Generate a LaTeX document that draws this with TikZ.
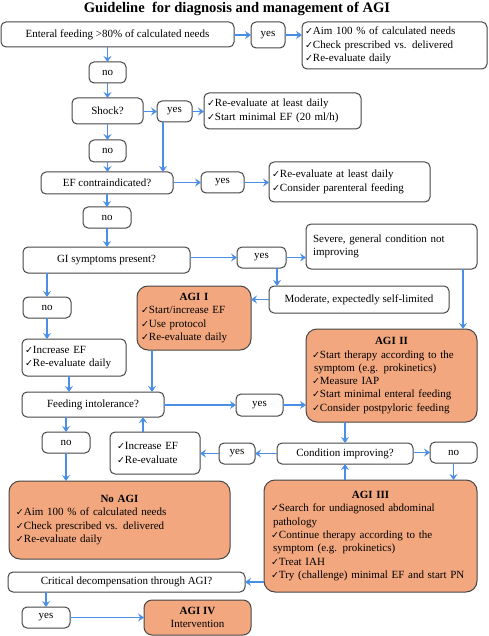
\documentclass[tikz,border=0pt]{standalone}
\usepackage{fontspec}
\setmainfont{Liberation Serif}
\newfontfamily\symfont{DejaVu Sans}
\usetikzlibrary{arrows.meta,calc}
\definecolor{agiorange}{RGB}{242,167,127}
\definecolor{arrblue}{RGB}{74,142,230}
\definecolor{boxgray}{RGB}{70,70,70}
\newcommand{\ck}{{\symfont\fontsize{9.5}{9}\selectfont ✓}}
\begin{document}
\begin{tikzpicture}[x=1pt,y=-1pt,
  base/.style={draw=boxgray,line width=1pt,rounded corners=5pt,inner sep=0pt,outer sep=0pt,
     font=\fontsize{11}{13.3}\selectfont,align=center},
  wb/.style={base,fill=white},
  ob/.style={base,fill=agiorange,rounded corners=11pt},
  arr/.style={draw=arrblue,line width=1.8pt,-{Stealth[length=6pt,width=8pt,inset=2.2pt]}}]
\useasboundingbox (0,0) rectangle (488,636);
\node[font=\bfseries\fontsize{14.6}{16}\selectfont] (title) at (237,9) {Guideline\ \ for diagnosis and management of AGI};
% row 1
\node[wb,minimum width=233pt,minimum height=25pt] (ef) at (117.5,34.5) {Enteral feeding >80\% of calculated needs};
\node[wb,minimum width=34pt,minimum height=26pt] (yes1) at (268,35) {yes};
\node[wb,minimum width=185pt,minimum height=47pt,text width=179pt,align=left] (r1) at (394.5,45.5)
  {\ck Aim 100 \% of calculated needs\\\ck Check prescribed vs. delivered\\\ck Re-evaluate daily};
\node[wb,minimum width=37pt,minimum height=21pt] (no1) at (107.5,72.5) {no};
% shock
\node[wb,minimum width=71pt,minimum height=26pt] (shock) at (107.5,111) {Shock?};
\node[wb,minimum width=35pt,minimum height=21pt] (yes2) at (174.5,111.5) {yes};
\node[wb,minimum width=157pt,minimum height=36pt,text width=151pt,align=left] (r2) at (282.5,111)
  {\ck Re-evaluate at least daily\\\ck Start minimal EF (20 ml/h)};
\node[wb,minimum width=37pt,minimum height=22pt] (no2) at (107.5,151) {no};
% EF contraindicated
\node[wb,minimum width=132pt,minimum height=22pt] (efc) at (107,183) {EF contraindicated?};
\node[wb,minimum width=43pt,minimum height=21pt] (yes3) at (222.5,182.5) {yes};
\node[wb,minimum width=161pt,minimum height=40pt,text width=155pt,align=left] (r3) at (349.5,182)
  {\ck Re-evaluate at least daily\\\ck Consider parenteral feeding};
\node[wb,minimum width=48pt,minimum height=21pt] (no3) at (107,217.5) {no};
% GI symptoms
\node[wb,minimum width=167pt,minimum height=26pt] (gi) at (106.5,260) {GI symptoms present?};
\node[wb,minimum width=49pt,minimum height=21pt] (yes4) at (261.5,257.5) {yes};
\node[wb,minimum width=171pt,minimum height=45pt,text width=157pt,align=left] (sev) at (391.5,246.5)
  {Severe, general condition not\\improving\\[5pt]};
\node[wb,minimum width=180pt,minimum height=27pt] (mod) at (359,299.5) {Moderate, expectedly self-limited};
\node[ob,minimum width=114pt,minimum height=64pt,text width=106pt,align=left] (agi1) at (194,318)
  {\makebox[\linewidth]{\textbf{AGI I}}\\\ck Start/increase EF\\\ck Use protocol\\\ck Re-evaluate daily};
\node[ob,minimum width=171pt,minimum height=93pt,text width=159pt,align=left] (agi2) at (391.5,375.5)
  {\makebox[\linewidth]{\textbf{AGI II}}\\\ck Start therapy according to the\\\hspace*{2pt}symptom (e.g. prokinetics)\\\ck Measure IAP\\\ck Start minimal enteral feeding\\\ck Consider postpyloric feeding};
\node[wb,minimum width=48pt,minimum height=21pt] (no4) at (47,307.5) {no};
\node[wb,minimum width=104pt,minimum height=37pt,text width=98pt,align=left] (inc1) at (74,357.5)
  {\ck Increase EF\\\ck Re-evaluate daily};
% Feeding intolerance
\node[wb,minimum width=142pt,minimum height=25pt] (fi) at (93,404.5) {Feeding intolerance?};
\node[wb,minimum width=47pt,minimum height=22pt] (yes5) at (259.5,405) {yes};
\node[wb,minimum width=48pt,minimum height=21pt] (no5) at (66,442.5) {no};
\node[wb,minimum width=90pt,minimum height=42pt,text width=76pt,align=left] (inc2) at (155,453)
  {\ck Increase EF\\\ck Re-evaluate};
\node[wb,minimum width=36pt,minimum height=21pt] (yes6) at (237,453.5) {yes};
\node[wb,minimum width=136pt,minimum height=21pt] (ci) at (345,453.5) {Condition improving?};
\node[wb,minimum width=47pt,minimum height=21pt] (no6) at (453.5,452.5) {no};
\node[ob,minimum width=213pt,minimum height=112pt,text width=199pt,align=left] (agi3) at (370.5,536)
  {\makebox[\linewidth]{\textbf{AGI III}}\\\ck Search for undiagnosed abdominal\\\hspace*{2pt}pathology\\\ck Continue therapy according to the\\\hspace*{2pt}symptom (e.g. prokinetics)\\\ck Treat IAH\\\ck Try (challenge) minimal EF and start PN};
\node[ob,minimum width=221pt,minimum height=78pt,text width=207pt,align=left] (noagi) at (119.5,520)
  {\makebox[\linewidth]{\textbf{No AGI}}\\\ck Aim 100 \% of calculated needs\\\ck Check prescribed vs. delivered\\\ck Re-evaluate daily};
\node[wb,minimum width=237pt,minimum height=20pt] (crit) at (126.5,582) {Critical decompensation through AGI?};
\node[wb,minimum width=48pt,minimum height=21pt] (yes7) at (46,617.5) {yes};
\node[ob,rounded corners=8pt,minimum width=107pt,minimum height=35pt] (agi4) at (197.5,617.5)
  {\textbf{AGI IV}\\Intervention};
% connectors
\draw[arr] (ef.east |- yes1) -- (yes1.west);
\draw[arr] (yes1.east) -- (yes1.east -| r1.west);
\draw[arr] (ef.south -| no1) -- (no1.north);
\draw[arr] (no1) -- (shock);
\draw[arr] (shock.east |- yes2) -- (yes2.west);
\draw[arr] (yes2.east) -- (yes2.east -| r2.west);
\coordinate (y2d) at ([xshift=6pt]yes2.south west);
\draw[arr] (y2d) -- (y2d |- efc.north);
\draw[arr] (shock) -- (no2);
\draw[arr] (no2) -- (efc.north -| no2);
\draw[arr] (efc.east |- yes3) -- (yes3.west);
\draw[arr] (yes3.east) -- (yes3.east -| r3.west);
\draw[arr] (efc.south -| no3) -- (no3.north);
\draw[arr] (no3.south) -- (gi.north -| no3);
\draw[arr] (gi.east |- yes4) -- (yes4.west);
\draw[arr] (yes4.east) -- (yes4.east -| sev.west);
\coordinate (y4d) at ([xshift=-9pt]yes4.south east);
\draw[arr] (y4d) -- (y4d |- mod.north);
\draw[arr] (mod.west) -- (mod.west -| agi1.east);
\coordinate (sevd) at ([xshift=-14pt]sev.south east);
\draw[arr] (sevd) -- (sevd |- agi2.north);
\draw[arr] (gi.south -| no4) -- (no4.north);
\draw[arr] (no4) -- (inc1.north -| no4);
\coordinate (i1d) at ([xshift=-5pt]inc1.south);
\draw[arr] (i1d) -- (i1d |- fi.north);
\coordinate (a1d) at ([xshift=-42pt]agi1.south);
\draw[arr] (a1d) -- (a1d |- fi.north);
\draw[arr] (fi.east |- yes5) -- (yes5.west);
\draw[arr] (yes5.east) -- (yes5.east -| agi2.west);
\draw[arr] (fi.south -| no5) -- (no5.north);
\draw[arr] (no5) -- (noagi.north -| no5);
\coordinate (i2u) at ([xshift=-12pt]inc2.north);
\draw[arr] (i2u) -- (i2u |- fi.south);
\draw[arr] (ci.west |- yes6) -- (yes6.east);
\draw[arr] (yes6.west) -- (yes6.west -| inc2.east);
\draw[arr] (agi2.south -| ci) -- (ci.north);
\draw[arr] (ci.east |- no6) -- (no6.west);
\draw[arr] (no6) -- (agi3.north -| no6);
\draw[arr] (agi3.north -| ci) -- (ci.south);
\draw[arr] (agi3.west |- crit) -- (crit.east);
\draw[arr] (crit.south -| yes7) -- (yes7.north);
\draw[arr] (yes7.east) -- (yes7.east -| agi4.west);
\end{tikzpicture}
\end{document}
